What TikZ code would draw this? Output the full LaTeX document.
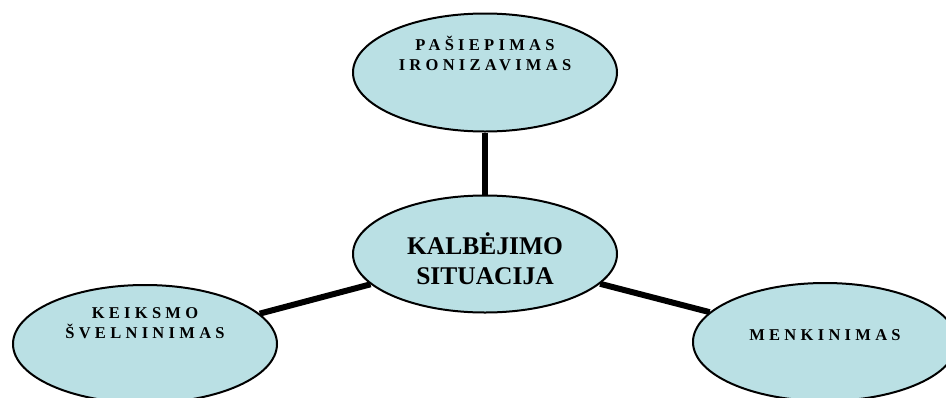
\documentclass[tikz,border=0pt]{standalone}
\usepackage{fontspec}
\setmainfont{Liberation Serif}
\newfontfamily\spacedfont[LetterSpace=26]{Liberation Serif}
\usetikzlibrary{shapes.geometric,backgrounds}
\definecolor{bub}{RGB}{186,224,228}
\begin{document}
\begin{tikzpicture}[x=1pt,y=1pt,
  bubble/.style={ellipse,draw=black,line width=2pt,fill=bub,minimum width=264pt,minimum height=118pt,inner sep=0pt},
  small/.style={font=\spacedfont\bfseries\fontsize{16.5}{20}\selectfont,align=center,inner sep=0pt},
  big/.style={font=\bfseries\fontsize{25.5}{30}\selectfont,align=center,inner sep=0pt},
  link/.style={line width=6pt}]
\useasboundingbox (0,0) rectangle (946,-397);
\clip (0,0) rectangle (946,-397);
\node[bubble,label={[small,yshift=19.5pt]center:{PAŠIEPIMAS\\IRONIZAVIMAS}}] (top) at (485,-72.5) {};
\node[bubble,minimum height=117pt,label={[big,yshift=-4.5pt]center:{KALBĖJIMO\\SITUACIJA}}] (mid) at (485,-254) {};
\node[bubble,label={[small,yshift=21pt]center:{KEIKSMO\\ŠVELNINIMAS}}] (left) at (145,-344) {};
\node[bubble,label={[small,yshift=7pt]center:{MENKINIMAS}}] (right) at (825,-342) {};
\begin{scope}[on background layer]
\draw[link] (top) -- (mid);
\draw[link] (mid) -- (left);
\draw[link] (mid) -- (right);
\end{scope}
\end{tikzpicture}
\end{document}
